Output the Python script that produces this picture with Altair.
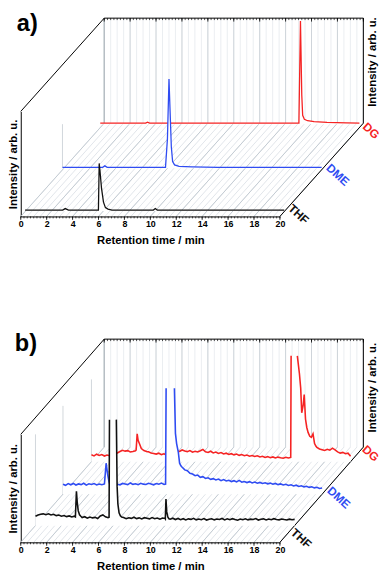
import altair as alt
import pandas as pd

# ---------------- data ----------------
SERIES = ["THF", "DME", "DG"]
COLORS = ["#111111", "#2f4cf2", "#f52323"]
X_LABELS = [0, 2, 4, 6, 8, 10, 12, 14, 16, 18, 20]

# panel a) : (time, intensity) pairs of each trace (smooth traces)
A_THF_T = [0, 2.9, 3.1, 3.35, 5.66, 5.72, 5.78, 5.9, 6.05, 6.2, 6.4, 6.7, 9.9, 10.05, 10.2, 20]
A_THF_V = [1, 1, 2.5, 1, 1, 48.5, 41, 23, 9, 3.5, 2, 1, 1, 2.5, 1, 1]
A_DME_T = [0, 3.1, 3.27, 3.45, 7.95, 8.1, 8.22, 8.3, 8.4, 8.5, 8.65, 9.0, 10.0, 12.0, 20]
A_DME_V = [1, 1, 2.5, 1, 1, 30, 91, 60, 22, 7, 3.5, 2, 1.5, 1, 1]
A_DG_T = [0, 3.5, 3.65, 3.8, 15.33, 15.45, 15.55, 15.62, 15.75, 16.0, 16.5, 17.5, 19.0, 20]
A_DG_V = [1, 1, 2, 1, 1, 105, 30, 9, 5, 3.5, 2.5, 1.8, 1.2, 1]

# panel b) : noisy traces sampled every 0.2 min (None = inside a peak, given separately)
B_STEP = 0.2
B_THF_V = [9.5, 10.8, 11.6, 12.0, 11.2, 12.1, 10.9, 11.5, 10.2, 10.8, 9.6, 10.3, 9.2, 9.9, 8.8, 9.6,
           None, None,
           8.2, 9.1, 7.6, 8.8, 7.9, 8.4, 7.3, 9.8, 10.9, 9.0, 8.1,
           None, None, None, None, None,
           8.3, 7.1, 8.0, 7.4, 8.6, 7.2, 7.9, 6.8, 8.1, 7.5, 6.9, 8.2, 7.0, 7.7, 6.6, 7.8,
           7.4, None,
           6.5, 7.6, 6.2, 7.3, 6.0, 7.1, 5.8, 6.9, 6.4, 7.5, 5.9, 6.8, 6.1, 7.2, 5.7, 6.6, 7.0,
           5.9, 6.7, 6.2, 7.3, 5.8, 6.9, 6.0, 7.1, 6.3, 5.6, 6.8, 6.1, 7.0, 5.9, 6.6, 6.2, 7.2,
           5.7, 6.5, 6.9, 5.8, 6.7, 6.0, 7.1, 6.3, 5.9, 6.8, 6.2, 5.7, 6.6, 6.1, 6.4]
B_THF_PEAK_T = [3.08, 3.16, 3.22, 3.3, 3.4, 3.5, 5.68, 5.71, 6.24, 6.3, 6.36, 6.45, 6.55, 6.65,
                10.02, 10.07, 10.13, 10.22, 10.3]
B_THF_PEAK_V = [9, 35, 24, 15, 11, 9.5, 8.5, 108, 108, 40, 22, 13, 10, 8.8,
                7, 27, 14, 8.5, 7]
B_THF_BREAKS = [6.0]

B_DME_V = [10.2, 9.1, 10.8, 9.6, 11.0, 9.4, 10.5, 9.8, 11.2, 9.3, 10.6, 9.9, 10.9, 9.5, 10.4, 9.7,
           None, None,
           10.8, 9.9, 11.3, 10.2, 9.6, 11.0, 10.4, 9.8, 11.5, 10.1, 10.7, 9.7, 11.2, 10.3, 9.9,
           11.1, 10.5, 9.6, 10.9, 10.2, 11.3, 10.0,
           None, None, None, None, None, None,
           27.5, 24.8, 23.9, 21.4, 20.6, 18.9, 19.5, 17.2, 17.9, 16.1,
           16.8, 15.2, 15.9, 14.6, 15.5, 13.8, 14.9, 13.5, 14.2, 12.9,
           13.8, 12.6, 14.1, 12.3, 13.0, 11.9, 12.8, 11.5, 12.4, 11.2,
           12.0, 10.9, 11.7, 10.6, 11.3, 10.2, 11.0, 9.8, 10.5, 9.4,
           10.1, 8.9, 9.6, 8.4, 9.2, 7.9, 8.6, 7.5, 8.1, 7.0,
           7.6, 6.5, 7.1, 5.9, 6.3]
B_DME_PEAK_T = [3.2, 3.33, 3.45, 3.55, 7.92, 7.96, 8.6, 8.68, 8.77, 8.9, 9.0, 9.1]
B_DME_PEAK_V = [10.5, 31.6, 20, 13, 10.3, 108, 108, 62, 51.6, 43, 31.6, 29]
B_DME_BREAKS = [8.3]

B_DG_V = [7.2, 6.1, 7.8, 6.5, 7.4, 5.9, 7.0, 6.3, 7.6, 8.1, 9.0,
          10.5, 11.8, 10.9, 11.4, 10.1, 10.6, 11.2,
          None, None, None, None,
          10.2, 9.1, 8.6, 7.9, 8.8, 7.4, 8.2, 6.9, 7.8, 8.5, 7.2,
          11.2, 10.6, 12.1, 11.0, 10.4, 11.5, 9.9, 10.8, 10.1, 11.3,
          12.6, 10.2, 9.5, 10.8, 9.1, 9.9, 8.6, 9.4, 8.0, 8.8,
          7.5, 8.3, 7.1, 7.9, 6.6, 7.4, 6.2, 6.9, 5.8, 6.5,
          5.4, 6.1, 4.9, 5.7, 4.5, 5.3, 4.2, 5.0, 3.9, 4.8,
          4.1, 3.6, 4.6, 3.9,
          None, None, None, None, None, None, None, None, None, None,
          14.8, 13.1, 12.4, 11.6, 12.8, 11.9, 13.9, 12.2, 10.1, 8.9, 9.6, 8.2, 8.8, 5.6]
B_DG_PEAK_T = [3.45, 3.53, 3.6, 3.7, 3.85, 4.05, 4.3,
               15.38, 15.41, 15.89, 16.05, 16.15, 16.23, 16.35, 16.42, 16.52, 16.62, 16.72,
               16.85, 16.97, 17.1, 17.22, 17.32]
B_DG_PEAK_V = [12, 28.6, 22, 18.6, 13.6, 11.5, 10.3,
               4.5, 108, 108, 90, 75, 50, 58.6, 68.6, 43.6, 35, 30,
               26, 25, 28.6, 18.6, 16]
B_DG_BREAKS = [15.6]

# ---------------- layout / style ----------------
FONT = "Liberation Sans"
W = 264
GRID_MINOR = [i * 0.5 for i in range(41)]
GRID_MAJOR = X_LABELS
TICKS_MINOR = [i * 0.25 for i in range(81)]


def frame_pairs(ts, vs, breaks=()):
    df = pd.DataFrame({"t": ts, "v": vs})
    df["seg"] = [sum(1 for b in breaks if t > b) for t in df["t"]]
    df["z"] = 0.0
    return df


def frame_grid(vals, pt, pv, breaks):
    rows = [(round(i * B_STEP, 3), v) for i, v in enumerate(vals) if v is not None]
    rows += list(zip(pt, pv))
    rows.sort()
    return frame_pairs([r[0] for r in rows], [r[1] for r in rows], breaks)


def panel(H, DX, DY, frames, shifts, lw, letter, letter_off, name_offs, title_off, wall_tops):
    xs = alt.Scale(domain=[0, 20], nice=False, zero=False)
    ys = alt.Scale(domain=[0, H], nice=False, zero=False)
    ax_x = alt.Axis(
        title="Retention time / min", values=X_LABELS, ticks=False, grid=False,
        domainColor="black", domainWidth=1, labelFont=FONT, labelFontWeight="bold",
        labelFontSize=9, labelColor="black", labelPadding=3, labelFlush=False,
        labelOverlap=False, titleFont=FONT, titleFontWeight="bold", titleFontSize=11.5,
        titleColor="black", titlePadding=7, format="d")
    ax_y = alt.Axis(
        title="Intensity / arb. u.", labels=False, ticks=False, grid=False,
        domainColor="black", domainWidth=1, titleFont=FONT, titleFontWeight="bold",
        titleFontSize=11.5, titleColor="black", titlePadding=2)

    def X(f):
        return alt.X(f, scale=xs, axis=ax_x, title="Retention time / min")

    def Y(f):
        return alt.Y(f, scale=ys, axis=ax_y, title="Intensity / arb. u.")

    def rules(df, color, width, xo=0, yo=0, x2o=0, y2o=0):
        return alt.Chart(df).mark_rule(
            color=color, strokeWidth=width, xOffset=xo, yOffset=yo,
            x2Offset=x2o, y2Offset=y2o).encode(x=X("x:Q"), x2="x2:Q", y=Y("y:Q"), y2="y2:Q")

    def rdf(x, x2, y, y2):
        return pd.DataFrame({"x": x, "x2": x2, "y": y, "y2": y2})

    layers = []
    n = len(GRID_MINOR)
    m = len(GRID_MAJOR)
    k = len(TICKS_MINOR)
    # floor hatch
    layers.append(rules(rdf(GRID_MINOR, GRID_MINOR, [0] * n, [0] * n), "#d3d9e0", 0.7,
                        x2o=DX, y2o=DY))
    layers.append(rules(rdf(GRID_MAJOR, GRID_MAJOR, [0] * m, [0] * m), "#bcc4cc", 0.8,
                        x2o=DX, y2o=DY))
    # back wall grid
    layers.append(rules(rdf(GRID_MINOR, GRID_MINOR, [0] * n, [H] * n), "#e2e6ea", 0.7,
                        xo=DX, yo=DY, x2o=DX, y2o=DY))
    layers.append(rules(rdf(GRID_MAJOR, GRID_MAJOR, [0] * m, [H] * m), "#c5ccd3", 0.8,
                        xo=DX, yo=DY, x2o=DX, y2o=DY))
    # left wall lines at each trace
    for (sx, sy), top in zip(shifts, wall_tops):
        if top > 0:
            layers.append(rules(rdf([0], [0], [0], [top]), "#c5ccd3", 0.8,
                                xo=sx, yo=sy, x2o=sx, y2o=sy))
    # back frame
    layers.append(rules(rdf([0], [0], [0], [H]), "#9aa3ab", 0.8, xo=DX, yo=DY, x2o=DX, y2o=DY))
    layers.append(rules(rdf([20], [20], [0], [H]), "black", 1, xo=DX, yo=DY, x2o=DX, y2o=DY))
    layers.append(rules(rdf([0], [20], [H], [H]), "black", 1, xo=DX, yo=DY, x2o=DX, y2o=DY))
    layers.append(rules(rdf(TICKS_MINOR, TICKS_MINOR, [H] * k, [H] * k), "black", 0.7,
                        xo=DX, yo=DY, x2o=DX, y2o=DY + 2))
    layers.append(rules(rdf(GRID_MAJOR, GRID_MAJOR, [H] * m, [H] * m), "black", 0.8,
                        xo=DX, yo=DY, x2o=DX, y2o=DY + 3.5))
    # diagonals
    layers.append(rules(rdf([0], [0], [H], [H]), "black", 1, x2o=DX, y2o=DY))
    layers.append(rules(rdf([20], [20], [0], [0]), "black", 1, x2o=DX, y2o=DY))

    # traces, back to front
    for i in [2, 1, 0]:
        df = frames[i]
        sx, sy = shifts[i]
        layers.append(alt.Chart(df).mark_area(color="white", opacity=1, xOffset=sx,
                                              yOffset=sy, y2Offset=sy).encode(
            x=X("t:Q"), y=Y("v:Q"), y2="z:Q"))
        layers.append(alt.Chart(df).mark_line(color=COLORS[i], strokeWidth=lw, xOffset=sx,
                                              yOffset=sy).encode(
            x=X("t:Q"), y=Y("v:Q"), detail="seg:N"))

    # front axis ticks
    layers.append(rules(rdf(TICKS_MINOR, TICKS_MINOR, [0] * k, [0] * k), "black", 0.7, y2o=2))
    layers.append(rules(rdf(GRID_MAJOR, GRID_MAJOR, [0] * m, [0] * m), "black", 0.8, y2o=3.5))

    def text(x, y, s, color, size, ang, ox, oy):
        return alt.Chart(pd.DataFrame({"x": [x], "y": [y], "s": [s]})).mark_text(
            xOffset=ox, yOffset=oy, angle=ang, font=FONT, fontWeight="bold",
            fontSize=size, color=color, align="center", baseline="middle").encode(
            x=X("x:Q"), y=Y("y:Q"), text="s:N")

    for i in range(3):
        ox, oy = name_offs[i]
        layers.append(text(20, 0, SERIES[i], COLORS[i], 12, 42, ox, oy))
    layers.append(text(20, H / 2, "Intensity / arb. u.", "black", 11.5, 270,
                       title_off[0], title_off[1]))
    layers.append(text(0, H, letter, "black", 24, 0, letter_off[0], letter_off[1]))

    return alt.layer(*layers).properties(width=W, height=H)


A_FRAMES = [frame_pairs(A_THF_T, A_THF_V), frame_pairs(A_DME_T, A_DME_V),
            frame_pairs(A_DG_T, A_DG_V)]
B_FRAMES = [frame_grid(B_THF_V, B_THF_PEAK_T, B_THF_PEAK_V, B_THF_BREAKS),
            frame_grid(B_DME_V, B_DME_PEAK_T, B_DME_PEAK_V, B_DME_BREAKS),
            frame_grid(B_DG_V, B_DG_PEAK_T, B_DG_PEAK_V, B_DG_BREAKS)]

pa = panel(107, 85, -95, A_FRAMES, [(4.4, -5.5), (42.5, -49), (81, -94)], 1.3,
           "a)", (6.7, -89.2), [(19, -2.3), (59, -42.3), (93, -87.3)], (95, -103.8),
           [0, 45, 0])
pb = panel(110, 85, -97, B_FRAMES, [(15, -17), (43, -49), (72, -82)], 1.6,
           "b)", (5.2, -91.5), [(21.7, -4), (60, -45.6), (92.5, -90.6)], (95, -102.5),
           [93, 90, 84])

chart = alt.vconcat(pa, pb, spacing=87).properties(
    padding={"left": 0, "top": -2, "right": 0, "bottom": 0}
).configure_view(stroke=None)

chart.save("out.html", embed_options={"renderer": "svg", "actions": False})
